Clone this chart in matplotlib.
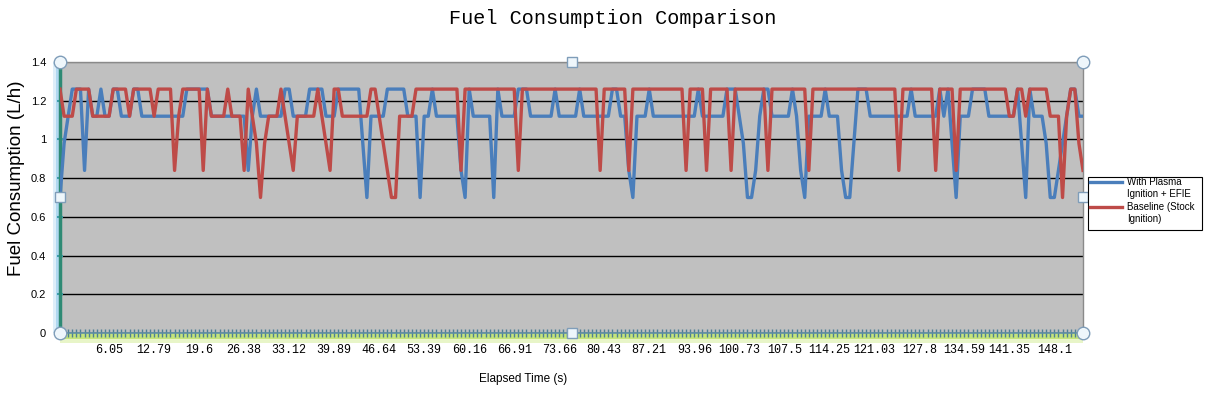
import matplotlib
matplotlib.use('Agg')
import matplotlib.pyplot as plt
from matplotlib.lines import Line2D
from matplotlib.patches import Rectangle

# ---------------- data ----------------
series_names = ["With Plasma\nIgnition + EFIE", "Baseline (Stock\nIgnition)"]

blue = [0.7, 0.98, 1.12, 1.26, 1.26, 1.26, 0.84, 1.26, 1.12, 1.12,
        1.26, 1.12, 1.12, 1.26, 1.26, 1.12, 1.12, 1.12, 1.26, 1.26,
        1.12, 1.12, 1.12, 1.12, 1.12, 1.12, 1.12, 1.12, 1.12, 1.12,
        1.12, 1.26, 1.26, 1.26, 1.26, 1.26, 1.26, 1.12, 1.12, 1.12,
        1.12, 1.12, 1.12, 1.12, 1.12, 1.12, 0.84, 1.12, 1.26, 1.12,
        1.12, 1.12, 1.12, 1.12, 1.12, 1.26, 1.26, 1.12, 1.12, 1.12,
        1.12, 1.26, 1.26, 1.26, 1.26, 1.12, 1.12, 1.12, 1.26, 1.26,
        1.26, 1.26, 1.26, 1.26, 0.98, 0.7, 1.12, 1.12, 1.12, 1.12,
        1.26, 1.26, 1.26, 1.26, 1.26, 1.12, 1.12, 1.12, 0.7, 1.12,
        1.12, 1.26, 1.12, 1.12, 1.12, 1.12, 1.12, 1.12, 0.84, 0.7,
        1.26, 1.12, 1.12, 1.12, 1.12, 1.12, 0.7, 1.26, 1.12, 1.12,
        1.12, 1.12, 1.26, 1.26, 1.26, 1.12, 1.12, 1.12, 1.12, 1.12,
        1.12, 1.26, 1.12, 1.12, 1.12, 1.12, 1.12, 1.26, 1.12, 1.12,
        1.12, 1.12, 1.12, 1.12, 1.12, 1.26, 1.26, 1.12, 1.12, 0.84,
        0.7, 1.12, 1.12, 1.12, 1.26, 1.12, 1.12, 1.12, 1.12, 1.12,
        1.12, 1.12, 1.12, 1.12, 1.12, 1.12, 1.26, 1.12, 1.12, 1.12,
        1.12, 1.12, 1.12, 1.26, 1.26, 1.26, 1.12, 0.98, 0.7, 0.7,
        0.84, 1.12, 1.26, 1.26, 1.12, 1.12, 1.12, 1.12, 1.12, 1.26,
        1.12, 0.84, 0.7, 1.12, 1.12, 1.12, 1.12, 1.26, 1.12, 1.12,
        1.12, 0.84, 0.7, 0.7, 0.98, 1.26, 1.26, 1.26, 1.12, 1.12,
        1.12, 1.12, 1.12, 1.12, 1.12, 1.12, 1.12, 1.12, 1.26, 1.12,
        1.12, 1.12, 1.12, 1.12, 1.12, 1.26, 1.12, 1.26, 0.98, 0.7,
        1.12, 1.12, 1.12, 1.26, 1.26, 1.26, 1.26, 1.12, 1.12, 1.12,
        1.12, 1.12, 1.12, 1.12, 1.26, 0.98, 0.7, 1.26, 1.12, 1.12,
        1.12, 0.98, 0.7, 0.7, 0.84, 0.98, 1.12, 1.26, 1.26, 1.12, 1.12]

red = [1.26, 1.12, 1.12, 1.12, 1.26, 1.26, 1.26, 1.26, 1.12, 1.12,
       1.12, 1.12, 1.12, 1.26, 1.26, 1.26, 1.26, 1.12, 1.26, 1.26,
       1.26, 1.26, 1.26, 1.12, 1.26, 1.26, 1.26, 1.26, 0.84, 1.12,
       1.26, 1.26, 1.26, 1.26, 1.26, 0.84, 1.26, 1.12, 1.12, 1.12,
       1.12, 1.26, 1.12, 1.12, 1.12, 0.84, 1.26, 1.12, 0.98, 0.7,
       0.98, 1.12, 1.12, 1.12, 1.26, 1.12, 0.98, 0.84, 1.12, 1.12,
       1.12, 1.12, 1.12, 1.26, 1.12, 0.98, 0.84, 1.26, 1.26, 1.12,
       1.12, 1.12, 1.12, 1.12, 1.12, 1.12, 1.26, 1.26, 1.12, 0.98,
       0.84, 0.7, 0.7, 1.12, 1.12, 1.12, 1.12, 1.26, 1.26, 1.26,
       1.26, 1.26, 1.26, 1.26, 1.26, 1.26, 1.26, 1.26, 0.84, 1.26,
       1.26, 1.26, 1.26, 1.26, 1.26, 1.26, 1.26, 1.26, 1.26, 1.26,
       1.26, 1.26, 0.84, 1.26, 1.26, 1.26, 1.26, 1.26, 1.26, 1.26,
       1.26, 1.26, 1.26, 1.26, 1.26, 1.26, 1.26, 1.26, 1.26, 1.26,
       1.26, 1.26, 0.84, 1.26, 1.26, 1.26, 1.26, 1.26, 1.26, 0.84,
       1.26, 1.26, 1.26, 1.26, 1.26, 1.26, 1.26, 1.26, 1.26, 1.26,
       1.26, 1.26, 1.26, 0.84, 1.26, 1.26, 1.26, 1.26, 0.84, 1.26,
       1.26, 1.26, 1.26, 1.26, 0.84, 1.26, 1.26, 1.26, 1.26, 1.26,
       1.26, 1.26, 1.26, 0.84, 1.26, 1.26, 1.26, 1.26, 1.26, 1.26,
       1.26, 1.26, 1.26, 0.84, 1.26, 1.26, 1.26, 1.26, 1.26, 1.26,
       1.26, 1.26, 1.26, 1.26, 1.26, 1.26, 1.26, 1.26, 1.26, 1.26,
       1.26, 1.26, 1.26, 1.26, 1.26, 0.84, 1.26, 1.26, 1.26, 1.26,
       1.26, 1.26, 1.26, 1.26, 0.84, 1.26, 1.26, 1.26, 1.26, 0.84,
       1.26, 1.26, 1.26, 1.26, 1.26, 1.26, 1.26, 1.26, 1.26, 1.26,
       1.26, 1.26, 1.12, 1.12, 1.26, 1.26, 1.12, 1.26, 1.26, 1.26,
       1.26, 1.26, 1.12, 1.12, 1.12, 0.7, 1.12, 1.26, 1.26, 0.98, 0.84]

x_label_positions = [12 + 11 * k for k in range(22)]
x_labels = ["6.05", "12.79", "19.6", "26.38", "33.12", "39.89", "46.64",
            "53.39", "60.16", "66.91", "73.66", "80.43", "87.21", "93.96",
            "100.73", "107.5", "114.25", "121.03", "127.8", "134.59",
            "141.35", "148.1"]
y_ticks = [0, 0.2, 0.4, 0.6, 0.8, 1.0, 1.2, 1.4]
y_labels = ["0", "0.2", "0.4", "0.6", "0.8", "1", "1.2", "1.4"]

# ---------------- figure ----------------
W, H = 1206, 397
def fx(px):
    return px / W
def fy(py):
    return 1 - py / H

BLUE = '#4a7ebb'
RED = '#be4b48'

fig = plt.figure(figsize=(W / 100, H / 100), dpi=100)
fig.patch.set_facecolor('white')

# selection glows behind the axes (figure level decorations)
for (x0, y0, x1, y1, c, a) in [
        (60, 323, 1083, 343, '#d6ee9c', 0.55),
        (60, 327, 1083, 339, '#b9df62', 0.75),
        (53, 62, 67, 333, '#cfe8f7', 0.7),
        (56, 62, 64, 333, '#a6d3ef', 0.8)]:
    fig.add_artist(Rectangle((fx(x0), fy(y1)), (x1 - x0) / W, (y1 - y0) / H,
                             transform=fig.transFigure, fc=c, ec='none',
                             alpha=a, zorder=0))

ax = fig.add_axes([fx(60), fy(333), (1083 - 60) / W, (333 - 62) / H])
ax.set_facecolor('#c0c0c0')
ax.patch.set_alpha(1)

xs = list(range(len(blue)))
ax.plot(xs, blue, color=BLUE, lw=2.4, solid_joinstyle='round', zorder=3)
ax.plot(xs, red, color=RED, lw=2.4, solid_joinstyle='round', zorder=4)

ax.set_xlim(0, len(blue) - 1)
ax.set_ylim(0, 1.4)

ax.set_yticks(y_ticks)
ax.set_yticklabels(y_labels, fontsize=8, family='Liberation Sans')
ax.set_xticks(x_label_positions)
ax.set_xticklabels(x_labels, fontsize=8.5, family='Liberation Mono')
ax.set_xticks(xs, minor=True)
ax.tick_params(axis='x', which='both', direction='inout', length=6,
               width=1.0, color='#4f7f95', pad=5)
ax.tick_params(axis='y', which='both', direction='inout', length=4,
               width=1.5, color='#3fa0b0', pad=8)

ax.grid(axis='y', color='black', lw=1)
ax.set_axisbelow(True)
gl = ax.get_ygridlines()
gl[-1].set_color('#8a8a8a')

for s in ['top', 'right']:
    ax.spines[s].set_color('#8a8a8a')
    ax.spines[s].set_linewidth(1)
ax.spines['left'].set_color('#2e8a74')
ax.spines['left'].set_linewidth(2.5)
ax.spines['bottom'].set_color('#5f8fa6')
ax.spines['bottom'].set_linewidth(1.2)

# selection handles
hkw = dict(transform=ax.transAxes, clip_on=False, zorder=10, ls='none')
ax.plot([0, 1, 0, 1], [0, 0, 1, 1], marker='o', ms=9, mfc='#eef6fb',
        mec='#7f9db9', mew=1, **hkw)
ax.plot([0.5, 0.5, 0, 1], [0, 1, 0.5, 0.5], marker='s', ms=6.5,
        mfc='#eef6fb', mec='#7f9db9', mew=1, **hkw)

# titles
fig.text(fx(613), fy(19), 'Fuel Consumption Comparison', ha='center',
         va='center', fontsize=14.5, family='Liberation Mono')
fig.text(fx(17), fy(178), 'Fuel Consumption (L/h)', rotation=90,
         ha='center', va='center', fontsize=13.5, family='Liberation Sans')
fig.text(fx(523), fy(379), 'Elapsed Time (s)', ha='center', va='center',
         fontsize=8.5, family='Liberation Sans')

# legend
fig.add_artist(Rectangle((fx(1088), fy(230)), (1202 - 1088) / W,
                         (230 - 177) / H, transform=fig.transFigure,
                         fc='white', ec='black', lw=0.8, zorder=5))
for yy, col, name in [(181.5, BLUE, series_names[0]),
                      (206.5, RED, series_names[1])]:
    fig.add_artist(Line2D([fx(1090), fx(1122)], [fy(yy), fy(yy)],
                          transform=fig.transFigure, color=col, lw=2.4,
                          zorder=6))
    fig.text(fx(1127), fy(yy - 5), name, ha='left', va='top',
             fontsize=7, family='Liberation Sans', linespacing=1.35,
             zorder=7)

fig.savefig('out.png', dpi=100, facecolor='white')
